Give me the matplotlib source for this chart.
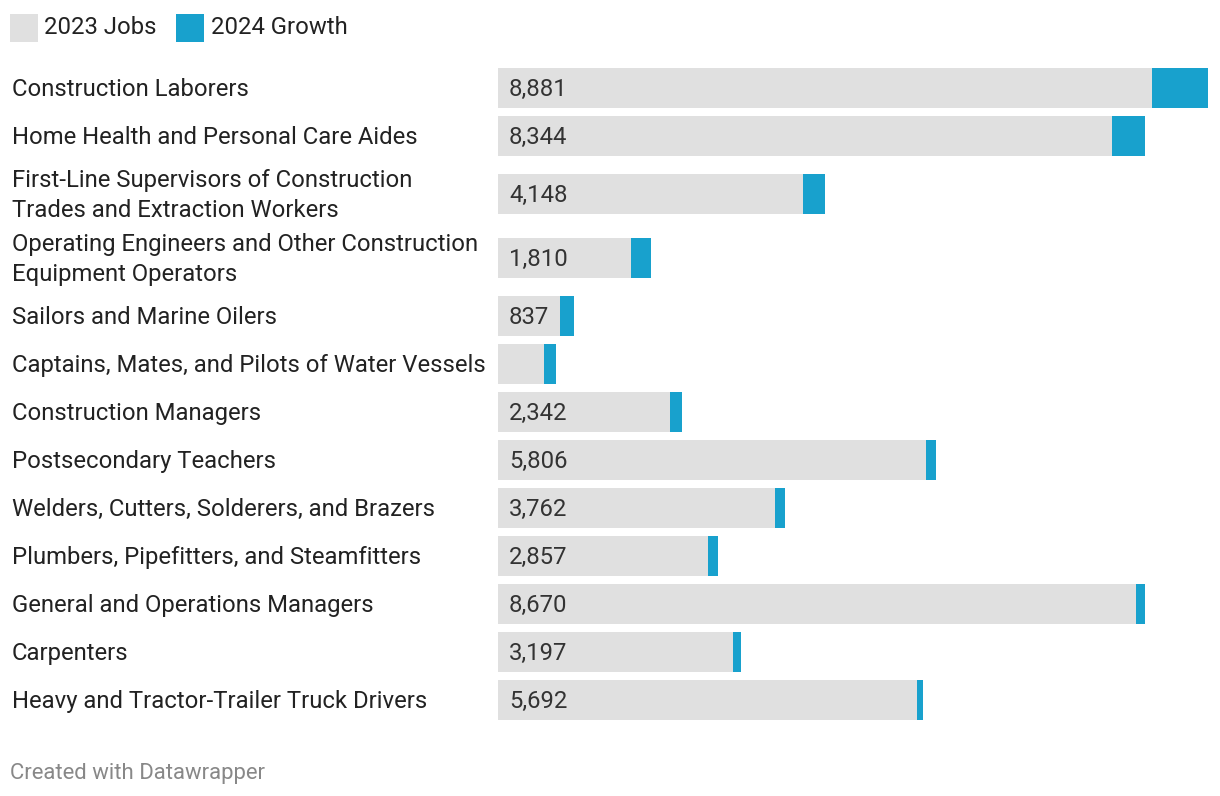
import matplotlib.pyplot as plt
from matplotlib.patches import Rectangle

plt.rcParams['font.family'] = ['Roboto', 'DejaVu Sans']

occupations = [
    "Construction Laborers",
    "Home Health and Personal Care Aides",
    "First-Line Supervisors of Construction\nTrades and Extraction Workers",
    "Operating Engineers and Other Construction\nEquipment Operators",
    "Sailors and Marine Oilers",
    "Captains, Mates, and Pilots of Water Vessels",
    "Construction Managers",
    "Postsecondary Teachers",
    "Welders, Cutters, Solderers, and Brazers",
    "Plumbers, Pipefitters, and Steamfitters",
    "General and Operations Managers",
    "Carpenters",
    "Heavy and Tractor-Trailer Truck Drivers",
]
jobs_2023 = [8881, 8344, 4148, 1810, 837, 625, 2342, 5806, 3762, 2857, 8670, 3197, 5692]
growth_2024 = [760, 435, 299, 272, 190, 163, 163, 136, 136, 136, 109, 109, 81]
# the chart shows no number on the smallest bar
show_label = [True, True, True, True, True, False, True, True, True, True, True, True, True]

GREY = "#e0e0e0"
BLUE = "#18a1cd"
TEXT = "#222222"
FS = 17.2

W, H = 1220, 796
fig = plt.figure(figsize=(W / 100, H / 100), dpi=100)

# row centres in pixels (two-line labels get taller rows)
row_y = []
y = 88
for i, name in enumerate(occupations):
    if i > 0:
        prev2 = "\n" in occupations[i - 1]
        cur2 = "\n" in name
        y += 48 + (10 if prev2 else 0) + (10 if cur2 else 0) - (4 if prev2 and cur2 else 0)
    row_y.append(y)

bar_left, bar_right = 498, 1208
xmax = jobs_2023[0] + growth_2024[0]
ax = fig.add_axes([bar_left / W, 0, (bar_right - bar_left) / W, 1])
ax.set_xlim(0, xmax)
ax.set_ylim(H, 0)
ax.axis("off")

ax.barh(row_y, jobs_2023, height=40, color=GREY, linewidth=0)
ax.barh(row_y, growth_2024, left=jobs_2023, height=40, color=BLUE, linewidth=0)

for yc, v, s in zip(row_y, jobs_2023, show_label):
    if s:
        ax.text(xmax * 11 / (bar_right - bar_left), yc + 1.5, f"{v:,}", va="center", ha="left",
                fontsize=FS, color="#333333")

for yc, name in zip(row_y, occupations):
    fig.text(12 / W, 1 - (yc + 1.5) / H, name, va="center", ha="left", fontsize=FS,
             color=TEXT, linespacing=1.4)

# legend
fig.patches.append(Rectangle((10 / W, 1 - 42 / H), 28 / W, 28 / H,
                             transform=fig.transFigure, color=GREY, linewidth=0))
fig.text(44 / W, 1 - 28 / H, "2023 Jobs", va="center", ha="left", fontsize=FS, color=TEXT)
fig.patches.append(Rectangle((176 / W, 1 - 42 / H), 28 / W, 28 / H,
                             transform=fig.transFigure, color=BLUE, linewidth=0))
fig.text(211 / W, 1 - 28 / H, "2024 Growth", va="center", ha="left", fontsize=FS, color=TEXT)

fig.text(10 / W, 1 - 774 / H, "Created with Datawrapper", va="center", ha="left",
         fontsize=15.9, color="#888888")

fig.savefig("out.png", dpi=100, facecolor="white")
